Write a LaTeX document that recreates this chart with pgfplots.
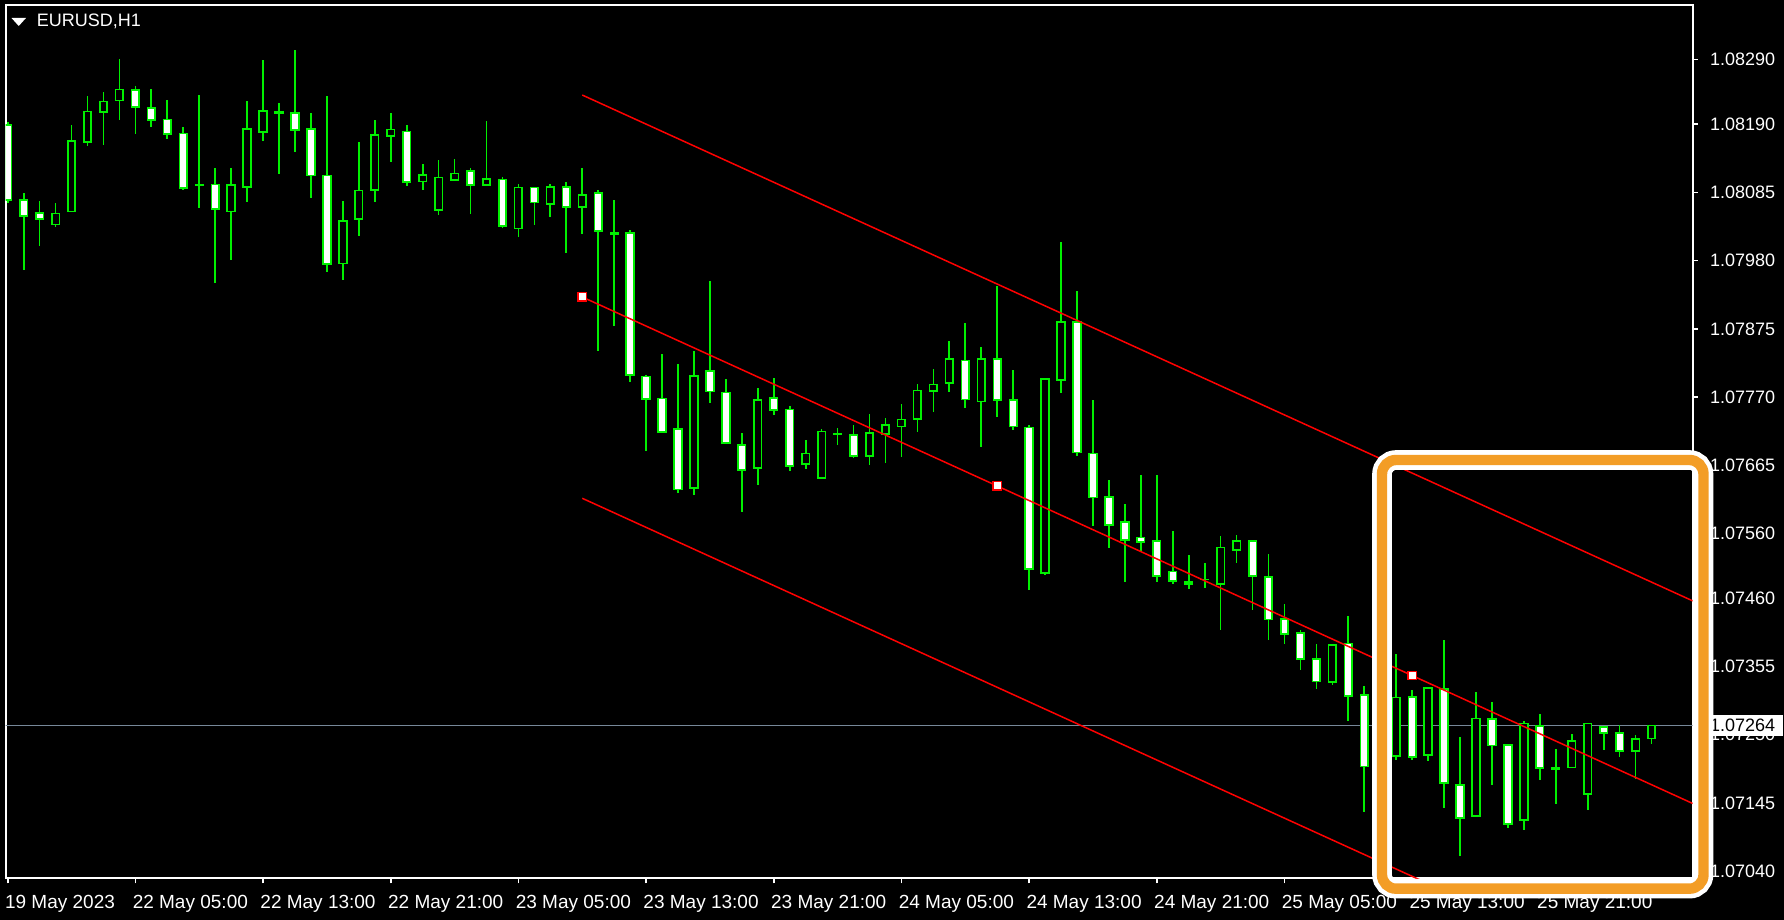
\documentclass[border=0pt]{standalone}
\usepackage{fontspec}
\setmainfont{Liberation Sans}
\usepackage{pgfplots}
\usepackage{pgfplotstable}
\pgfplotsset{compat=1.18}

\definecolor{barlime}{RGB}{0,240,0}
\definecolor{chanred}{RGB}{255,0,0}
\definecolor{askgray}{RGB}{119,136,153}
\definecolor{hlorange}{RGB}{243,157,38}

% EURUSD H1 bars: index, open, high, low, close
\pgfplotstableread{
i O H L C
0 1.08190 1.08194 1.08069 1.08074
1 1.08075 1.08085 1.07967 1.08050
2 1.08054 1.08073 1.08003 1.08045
3 1.08037 1.08070 1.08034 1.08054
4 1.08056 1.08190 1.08056 1.08165
5 1.08164 1.08234 1.08158 1.08211
6 1.08210 1.08240 1.08158 1.08226
7 1.08228 1.08292 1.08198 1.08245
8 1.08245 1.08249 1.08176 1.08219
9 1.08217 1.08246 1.08187 1.08198
10 1.08199 1.08227 1.08167 1.08176
11 1.08177 1.08187 1.08090 1.08093
12 1.08097 1.08237 1.08062 1.08096
13 1.08097 1.08123 1.07945 1.08059
14 1.08056 1.08123 1.07982 1.08097
15 1.08093 1.08227 1.08071 1.08183
16 1.08179 1.08289 1.08164 1.08211
17 1.08210 1.08224 1.08114 1.08208
18 1.08208 1.08304 1.08148 1.08182
19 1.08183 1.08209 1.08078 1.08111
20 1.08112 1.08234 1.07964 1.07976
21 1.07976 1.08073 1.07951 1.08041
22 1.08044 1.08163 1.08019 1.08088
23 1.08090 1.08197 1.08071 1.08174
24 1.08173 1.08209 1.08133 1.08183
25 1.08180 1.08190 1.08096 1.08102
26 1.08102 1.08129 1.08090 1.08112
27 1.08059 1.08135 1.08050 1.08109
28 1.08105 1.08138 1.08105 1.08115
29 1.08118 1.08123 1.08053 1.08096
30 1.08096 1.08197 1.08096 1.08106
31 1.08106 1.08110 1.08031 1.08034
32 1.08031 1.08098 1.08016 1.08094
33 1.08094 1.08094 1.08037 1.08071
34 1.08068 1.08098 1.08047 1.08094
35 1.08094 1.08101 1.07991 1.08063
36 1.08063 1.08123 1.08022 1.08081
37 1.08085 1.08089 1.07842 1.08026
38 1.08023 1.08073 1.07879 1.08022
39 1.08023 1.08029 1.07794 1.07804
40 1.07801 1.07805 1.07688 1.07766
41 1.07768 1.07836 1.07717 1.07717
42 1.07721 1.07821 1.07622 1.07628
43 1.07631 1.07842 1.07619 1.07804
44 1.07810 1.07950 1.07762 1.07779
45 1.07777 1.07799 1.07699 1.07699
46 1.07697 1.07716 1.07594 1.07659
47 1.07662 1.07784 1.07634 1.07767
48 1.07770 1.07799 1.07742 1.07751
49 1.07752 1.07756 1.07656 1.07665
50 1.07668 1.07704 1.07659 1.07684
51 1.07646 1.07722 1.07646 1.07718
52 1.07715 1.07722 1.07696 1.07714
53 1.07712 1.07728 1.07677 1.07680
54 1.07680 1.07744 1.07665 1.07715
55 1.07714 1.07738 1.07668 1.07727
56 1.07726 1.07759 1.07677 1.07737
57 1.07736 1.07790 1.07717 1.07780
58 1.07779 1.07815 1.07748 1.07789
59 1.07791 1.07858 1.07779 1.07829
60 1.07826 1.07885 1.07754 1.07766
61 1.07763 1.07848 1.07693 1.07829
62 1.07829 1.07941 1.07739 1.07766
63 1.07767 1.07812 1.07720 1.07726
64 1.07724 1.07728 1.07474 1.07506
65 1.07499 1.07800 1.07497 1.07798
66 1.07797 1.08009 1.07776 1.07887
67 1.07887 1.07935 1.07680 1.07686
68 1.07684 1.07765 1.07571 1.07616
69 1.07616 1.07642 1.07538 1.07573
70 1.07579 1.07605 1.07486 1.07551
71 1.07555 1.07651 1.07532 1.07548
72 1.07549 1.07651 1.07486 1.07495
73 1.07502 1.07565 1.07483 1.07487
74 1.07487 1.07528 1.07476 1.07483
75 1.07490 1.07515 1.07476 1.07490
76 1.07483 1.07556 1.07411 1.07539
77 1.07535 1.07559 1.07516 1.07549
78 1.07549 1.07549 1.07442 1.07495
79 1.07493 1.07528 1.07396 1.07428
80 1.07429 1.07451 1.07390 1.07406
81 1.07407 1.07413 1.07351 1.07367
82 1.07367 1.07390 1.07320 1.07333
83 1.07332 1.07390 1.07326 1.07389
84 1.07392 1.07433 1.07271 1.07311
85 1.07311 1.07325 1.07132 1.07201
86 1.07201 1.07240 1.07180 1.07220
87 1.07218 1.07374 1.07211 1.07308
88 1.07308 1.07319 1.07211 1.07216
89 1.07218 1.07321 1.07211 1.07321
90 1.07321 1.07396 1.07137 1.07176
91 1.07173 1.07248 1.07064 1.07123
92 1.07126 1.07316 1.07123 1.07276
93 1.07276 1.07300 1.07172 1.07235
94 1.07235 1.07235 1.07107 1.07113
95 1.07120 1.07271 1.07104 1.07268
96 1.07265 1.07284 1.07181 1.07200
97 1.07200 1.07229 1.07144 1.07198
98 1.07200 1.07251 1.07200 1.07241
99 1.07160 1.07268 1.07135 1.07268
100 1.07262 1.07265 1.07227 1.07253
101 1.07253 1.07265 1.07216 1.07225
102 1.07225 1.07250 1.07182 1.07244
103 1.07244 1.07265 1.07235 1.07264
}\candles

\begin{document}
\begin{tikzpicture}
\begin{scope}[x=0.5pt,y=0.5pt]
  \useasboundingbox (0,0) rectangle (1784,920);
  \fill[black] (0,0) rectangle (1784,920);
\end{scope}

\begin{axis}[
  at={(2.75pt,20.85pt)}, anchor=south west,
  scale only axis, width=843.6pt, height=436.4pt,
  xmin=-0.138, xmax=105.58, ymin=1.070288, ymax=1.083729,
  axis line style={white, line width=1pt},
  tick style={white, line width=0.8pt},
  tick align=outside,
  major tick length=2.6pt,
  xtick pos=left, ytick pos=right,
  yticklabel pos=right,
  xtick={0,8,16,24,32,40,48,56,64,72,80,88,96},
  xticklabels={19 May 2023,22 May 05:00,22 May 13:00,22 May 21:00,23 May 05:00,23 May 13:00,23 May 21:00,24 May 05:00,24 May 13:00,24 May 21:00,25 May 05:00,25 May 13:00,25 May 21:00},
  ytick={1.08290,1.08190,1.08085,1.07980,1.07875,1.07770,1.07665,1.07560,1.07460,1.07355,1.07250,1.07145,1.07040},
  yticklabels={1.08290,1.08190,1.08085,1.07980,1.07875,1.07770,1.07665,1.07560,1.07460,1.07355,1.07250,1.07145,1.07040},
  xticklabel style={anchor=north west, inner sep=0pt, xshift=-1.5pt, yshift=-5.85pt, text=white, font=\fontsize{9.5}{10}\selectfont},
  yticklabel style={anchor=west, inner sep=0pt, xshift=5.9pt, text=white, font=\fontsize{9}{10}\selectfont},
  extra y ticks={1.07264},
  extra y tick labels={1.07264},
  extra y tick style={yticklabel style={fill=white, text=black, inner xsep=4pt, inner ysep=2.2pt, xshift=-4pt}},
]

% bid line
\addplot[askgray, line width=0.8pt] coordinates {(-1,1.07264) (106,1.07264)};

% wicks
\addplot[draw=none, mark=none, error bars/.cd, y dir=both, y explicit, error mark=none,
  error bar style={draw=barlime, line width=0.85pt}]
  table[x=i, y expr={(\thisrow{H}+\thisrow{L})/2}, y error expr={(\thisrow{H}-\thisrow{L})/2}] {\candles};

% body outlines
\addplot[draw=none, mark=none, error bars/.cd, y dir=both, y explicit, error mark=none,
  error bar style={draw=barlime, line width=4.65pt}]
  table[x=i, y expr={(\thisrow{O}+\thisrow{C})/2}, y error expr={abs(\thisrow{O}-\thisrow{C})/2+0.000013}] {\candles};

% bearish bodies, white
\addplot[draw=none, mark=none,
  restrict expr to domain={\thisrow{O}-\thisrow{C}}{0.00005:1},
  error bars/.cd, y dir=both, y explicit, error mark=none,
  error bar style={draw=white, line width=2.95pt}]
  table[x=i, y expr={(\thisrow{O}+\thisrow{C})/2},
    y error expr={(\thisrow{O}-\thisrow{C})/2-0.000013}] {\candles};

% bullish bodies, hollow
\addplot[draw=none, mark=none,
  restrict expr to domain={\thisrow{C}-\thisrow{O}}{0.00005:1},
  error bars/.cd, y dir=both, y explicit, error mark=none,
  error bar style={draw=black, line width=2.95pt}]
  table[x=i, y expr={(\thisrow{O}+\thisrow{C})/2},
    y error expr={(\thisrow{C}-\thisrow{O})/2-0.000013}] {\candles};

% regression channel
\addplot[chanred, line width=0.75pt] coordinates {(36,1.08235) (105.58,1.07456)};
\addplot[chanred, line width=0.75pt] coordinates {(36,1.07924) (62,1.07633) (88,1.07341) (105.58,1.07144)};
\addplot[chanred, line width=0.75pt] coordinates {(36,1.07614) (105.58,1.06835)};
\addplot[chanred, only marks, mark=square*, mark size=2.1pt, mark options={fill=white, line width=0.7pt}]
  coordinates {(36,1.07924) (62,1.07633) (88,1.07341)};
\end{axis}

\begin{scope}[x=0.5pt,y=0.5pt]
  \fill[white] (11.5,902) -- (26,902) -- (18.75,894) -- cycle;
  \node[anchor=west, inner sep=0pt, text=white, font=\fontsize{9}{10}\selectfont] at (36.4,899) {EURUSD,H1};
  % highlight frame around the latest bars
  \draw[white, line width=9.8pt, rounded corners=7pt] (1382,31.3) rectangle (1703.5,460);
  \draw[hlorange, line width=5.2pt, rounded corners=7pt] (1382,31.3) rectangle (1703.5,460);
\end{scope}
\end{tikzpicture}
\end{document}
